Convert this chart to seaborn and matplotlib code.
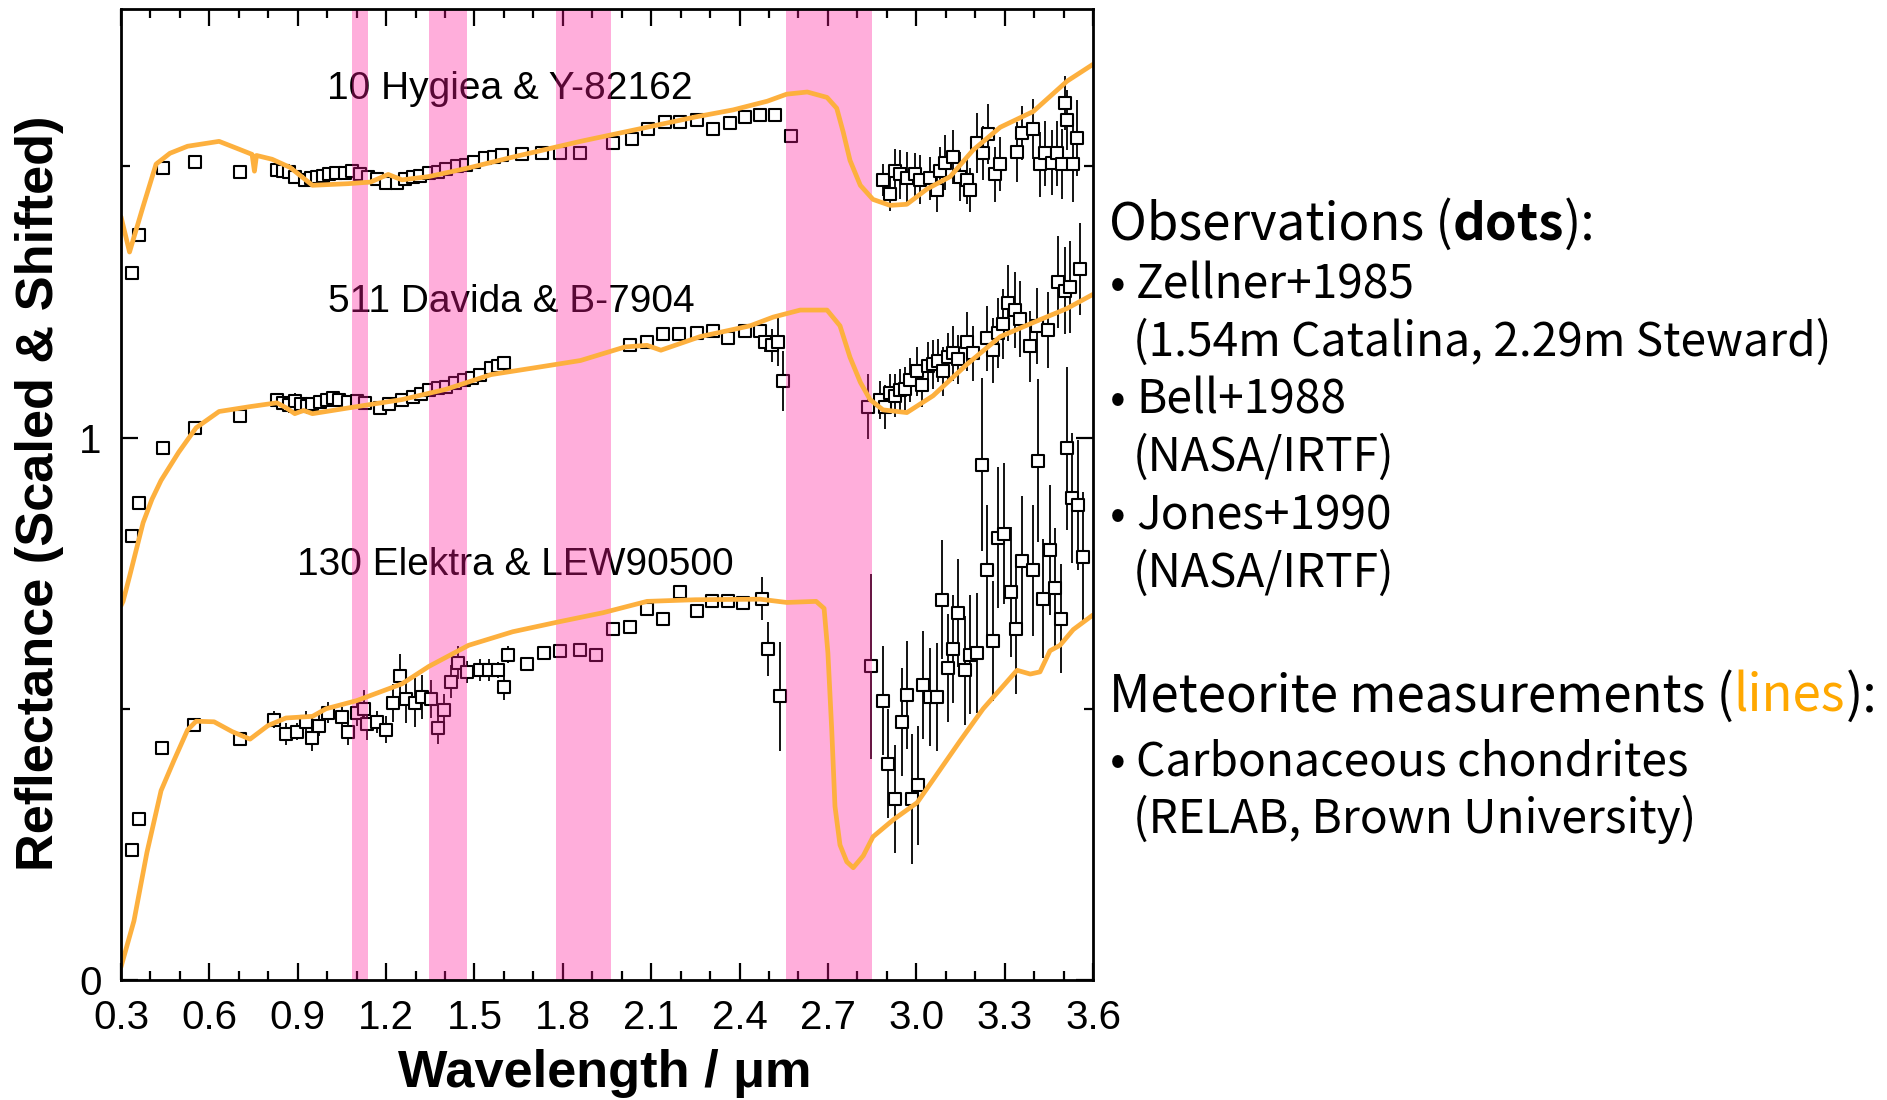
import numpy as np
import matplotlib
matplotlib.use("Agg")
import matplotlib.pyplot as plt
from matplotlib.ticker import MultipleLocator, FixedLocator, FixedFormatter, FormatStrFormatter
import seaborn as sns

# ---------------------------------------------------------------- data
# Laboratory spectra of carbonaceous chondrites (scaled and shifted)
w_hyg_line = [0.30, 0.329, 0.375, 0.419, 0.466, 0.526, 0.633, 0.694, 0.745, 0.753, 0.760,
              0.813, 0.874, 0.95, 1.071, 1.147, 1.207, 1.254, 1.344, 1.48, 1.63, 1.86,
              2.086, 2.25, 2.378, 2.494, 2.56, 2.63, 2.697, 2.73, 2.752, 2.775, 2.81,
              2.853, 2.911, 2.968, 3.036, 3.115, 3.193, 3.285, 3.397, 3.512, 3.6]
r_hyg_line = [1.407, 1.342, 1.426, 1.504, 1.524, 1.537, 1.546, 1.533, 1.522, 1.491, 1.520,
              1.513, 1.498, 1.465, 1.468, 1.471, 1.485, 1.475, 1.481, 1.497, 1.517, 1.546,
              1.572, 1.591, 1.604, 1.620, 1.633, 1.637, 1.627, 1.607, 1.563, 1.511, 1.465,
              1.439, 1.428, 1.430, 1.458, 1.481, 1.530, 1.572, 1.601, 1.657, 1.688]

w_dav_line = [0.30, 0.307, 0.329, 0.375, 0.405, 0.436, 0.496, 0.555, 0.633, 0.738, 0.829,
              0.86, 0.89, 0.92, 0.95, 1.1, 1.254, 1.404, 1.556, 1.709, 1.86, 2.011, 2.086,
              2.133, 2.266, 2.436, 2.514, 2.606, 2.697, 2.741, 2.775, 2.81, 2.843, 2.887,
              2.968, 3.057, 3.172, 3.285, 3.397, 3.512, 3.6]
r_dav_line = [0.690, 0.698, 0.744, 0.843, 0.886, 0.921, 0.973, 1.018, 1.048, 1.057, 1.064,
              1.055, 1.044, 1.050, 1.044, 1.057, 1.070, 1.089, 1.116, 1.129, 1.142, 1.167,
              1.170, 1.161, 1.186, 1.206, 1.222, 1.235, 1.235, 1.206, 1.148, 1.102, 1.070,
              1.051, 1.046, 1.077, 1.135, 1.186, 1.212, 1.238, 1.264]

w_ele_line = [0.30, 0.344, 0.388, 0.436, 0.48, 0.526, 0.555, 0.616, 0.677, 0.738, 0.799,
              0.86, 0.95, 0.996, 1.1, 1.254, 1.345, 1.48, 1.63, 1.784, 1.936, 2.086, 2.25,
              2.47, 2.56, 2.66, 2.687, 2.70, 2.713, 2.724, 2.741, 2.764, 2.786, 2.82, 2.853,
              2.921, 3.003, 3.057, 3.149, 3.227, 3.342, 3.387, 3.42, 3.454, 3.488, 3.533, 3.6]
r_ele_line = [0.024, 0.109, 0.235, 0.349, 0.405, 0.461, 0.477, 0.476, 0.458, 0.444, 0.469,
              0.483, 0.486, 0.500, 0.515, 0.546, 0.578, 0.617, 0.642, 0.660, 0.677, 0.698,
              0.701, 0.702, 0.696, 0.698, 0.685, 0.603, 0.461, 0.320, 0.249, 0.218, 0.207,
              0.229, 0.264, 0.295, 0.327, 0.369, 0.441, 0.500, 0.571, 0.564, 0.568, 0.607,
              0.617, 0.646, 0.673]

# Telescopic reflectance of the asteroids (value, 1-sigma error)
w_hyg = [0.336, 0.362, 0.443, 0.551, 0.704, 0.829, 0.850, 0.870, 0.890, 0.925, 0.945, 0.965,
         0.985, 1.005, 1.030, 1.060, 1.085, 1.110, 1.140, 1.170, 1.200, 1.238, 1.265, 1.290,
         1.315, 1.345, 1.375, 1.405, 1.440, 1.470, 1.500, 1.535, 1.565, 1.594, 1.660, 1.730,
         1.790, 1.860, 1.970, 2.035, 2.090, 2.147, 2.198, 2.256, 2.310, 2.368, 2.419, 2.470,
         2.520, 2.574,
         2.888, 2.911, 2.928, 2.945, 2.968, 2.996, 3.013, 3.047, 3.071, 3.081, 3.098, 3.125,
         3.149, 3.172, 3.183, 3.207, 3.227, 3.245, 3.268, 3.285, 3.342, 3.359, 3.397, 3.420,
         3.438, 3.461, 3.478, 3.495, 3.505, 3.512, 3.533, 3.546]
r_hyg = [1.303, 1.373, 1.497, 1.508, 1.490, 1.493, 1.491, 1.490, 1.480, 1.475, 1.478, 1.480,
         1.483, 1.485, 1.488, 1.488, 1.492, 1.485, 1.480, 1.476, 1.470, 1.469, 1.476, 1.480,
         1.482, 1.488, 1.490, 1.495, 1.500, 1.503, 1.508, 1.515, 1.518, 1.520, 1.522, 1.524,
         1.525, 1.525, 1.543, 1.550, 1.569, 1.582, 1.582, 1.585, 1.569, 1.580, 1.591, 1.594,
         1.594, 1.555,
         1.475, 1.449, 1.491, 1.485, 1.478, 1.485, 1.475, 1.478, 1.456, 1.491, 1.507, 1.517,
         1.481, 1.475, 1.456, 1.543, 1.524, 1.559, 1.485, 1.504, 1.527, 1.562, 1.569, 1.504,
         1.524, 1.507, 1.524, 1.504, 1.617, 1.585, 1.504, 1.552]
e_hyg = [0, 0, 0, 0, 0, 0.008, 0.008, 0.008, 0.010, 0.010, 0.010, 0.010,
         0.010, 0.010, 0.010, 0.010, 0.010, 0.010, 0.010, 0.010, 0.010, 0.010, 0.010, 0.010,
         0.010, 0.010, 0.010, 0.010, 0.010, 0.010, 0.010, 0.010, 0.010, 0.010, 0, 0,
         0, 0, 0, 0, 0, 0, 0, 0, 0, 0, 0, 0,
         0, 0,
         0.030, 0.032, 0.040, 0.045, 0.048, 0.040, 0.045, 0.040, 0.040, 0.045, 0.050, 0.050,
         0.045, 0.045, 0.040, 0.055, 0.050, 0.055, 0.050, 0.050, 0.055, 0.050, 0.055, 0.060,
         0.060, 0.060, 0.060, 0.065, 0.050, 0.055, 0.070, 0.070]

w_dav = [0.336, 0.362, 0.443, 0.551, 0.704, 0.829, 0.850, 0.870, 0.890, 0.910, 0.930, 0.950,
         0.975, 1.000, 1.020, 1.040, 1.070, 1.100, 1.130, 1.178, 1.210, 1.254, 1.290, 1.320,
         1.345, 1.375, 1.404, 1.435, 1.465, 1.490, 1.519, 1.556, 1.580, 1.602,
         2.028, 2.085, 2.140, 2.195, 2.256, 2.310, 2.362, 2.419, 2.470, 2.487, 2.509, 2.530,
         2.548, 2.837,
         2.877, 2.894, 2.911, 2.928, 2.945, 2.962, 2.979, 3.003, 3.020, 3.040, 3.057, 3.074,
         3.091, 3.108, 3.125, 3.142, 3.172, 3.193, 3.240, 3.262, 3.279, 3.296, 3.313, 3.336,
         3.353, 3.387, 3.410, 3.448, 3.482, 3.505, 3.522, 3.556]
r_dav = [0.818, 0.879, 0.981, 1.017, 1.039, 1.070, 1.064, 1.060, 1.068, 1.062, 1.058, 1.062,
         1.066, 1.070, 1.072, 1.070, 1.066, 1.068, 1.064, 1.054, 1.062, 1.070, 1.074, 1.080,
         1.088, 1.091, 1.094, 1.100, 1.106, 1.110, 1.115, 1.128, 1.132, 1.138,
         1.170, 1.177, 1.190, 1.190, 1.193, 1.196, 1.183, 1.196, 1.196, 1.177, 1.170, 1.177,
         1.104, 1.057,
         1.070, 1.056, 1.083, 1.077, 1.087, 1.090, 1.106, 1.122, 1.096, 1.132, 1.135, 1.142,
         1.122, 1.148, 1.155, 1.144, 1.177, 1.155, 1.183, 1.161, 1.193, 1.209, 1.248, 1.235,
         1.219, 1.168, 1.206, 1.199, 1.287, 1.271, 1.277, 1.310]
e_dav = [0, 0, 0, 0, 0.008, 0.010, 0.012, 0.015, 0.015, 0.012, 0.015, 0.012,
         0.012, 0.012, 0.012, 0.012, 0.010, 0.010, 0.010, 0.010, 0.010, 0.010, 0.010, 0.010,
         0.010, 0.010, 0.010, 0.010, 0.010, 0.010, 0.010, 0.010, 0.010, 0.010,
         0, 0, 0, 0, 0, 0, 0.010, 0, 0, 0.020, 0.030, 0.045,
         0.055, 0.060,
         0.035, 0.040, 0.035, 0.040, 0.040, 0.040, 0.040, 0.045, 0.040, 0.045, 0.045, 0.040,
         0.045, 0.045, 0.050, 0.045, 0.055, 0.050, 0.060, 0.060, 0.065, 0.065, 0.070, 0.070,
         0.070, 0.065, 0.070, 0.070, 0.085, 0.080, 0.085, 0.085]

w_ele = [0.336, 0.362, 0.438, 0.548, 0.704, 0.821, 0.860, 0.897, 0.927, 0.950, 0.973, 1.004,
         1.049, 1.071, 1.102, 1.125, 1.135, 1.170, 1.200, 1.223, 1.246, 1.268, 1.298, 1.322,
         1.352, 1.375, 1.397, 1.420, 1.443, 1.473, 1.519, 1.549, 1.579, 1.599, 1.614, 1.678,
         1.735, 1.790, 1.857, 1.913, 1.970, 2.028, 2.085, 2.140, 2.198, 2.255, 2.306, 2.362,
         2.413, 2.476, 2.497, 2.538, 2.845,
         2.888, 2.905, 2.928, 2.950, 2.968, 2.985, 3.006, 3.023, 3.047, 3.070, 3.087, 3.108,
         3.125, 3.142, 3.166, 3.183, 3.206, 3.222, 3.240, 3.262, 3.279, 3.298, 3.321, 3.339,
         3.358, 3.397, 3.414, 3.431, 3.454, 3.471, 3.491, 3.512, 3.528, 3.550, 3.565]
r_ele = [0.239, 0.297, 0.428, 0.470, 0.444, 0.480, 0.454, 0.458, 0.476, 0.447, 0.469, 0.493,
         0.484, 0.458, 0.493, 0.500, 0.472, 0.476, 0.461, 0.511, 0.561, 0.518, 0.511, 0.522,
         0.518, 0.465, 0.497, 0.550, 0.585, 0.568, 0.571, 0.571, 0.571, 0.541, 0.600, 0.582,
         0.603, 0.607, 0.609, 0.600, 0.647, 0.651, 0.684, 0.666, 0.716, 0.681, 0.698, 0.698,
         0.695, 0.703, 0.610, 0.523, 0.578,
         0.515, 0.399, 0.334, 0.476, 0.525, 0.334, 0.359, 0.544, 0.522, 0.522, 0.701, 0.575,
         0.610, 0.677, 0.571, 0.600, 0.603, 0.950, 0.755, 0.625, 0.815, 0.823, 0.716, 0.647,
         0.773, 0.755, 0.957, 0.703, 0.793, 0.723, 0.666, 0.980, 0.889, 0.876, 0.779]
e_ele = [0, 0, 0, 0, 0, 0.015, 0.020, 0.015, 0.020, 0.025, 0.020, 0.020,
         0.020, 0.025, 0.025, 0.035, 0.030, 0.020, 0.025, 0.035, 0.040, 0.045, 0.045, 0.040,
         0.035, 0.030, 0.030, 0.030, 0.030, 0.020, 0.020, 0.020, 0.015, 0.025, 0.015, 0.010,
         0, 0, 0.012, 0, 0, 0, 0.012, 0, 0, 0.012, 0, 0,
         0, 0.040, 0.050, 0.100, 0.170,
         0.100, 0.100, 0.100, 0.100, 0.100, 0.120, 0.110, 0.100, 0.090, 0.100, 0.110, 0.100,
         0.100, 0.100, 0.100, 0.110, 0.110, 0.160, 0.120, 0.110, 0.130, 0.130, 0.120, 0.120,
         0.120, 0.120, 0.150, 0.110, 0.120, 0.110, 0.100, 0.150, 0.120, 0.120, 0.120]

# Telluric absorption windows (micron)
band_lo = [1.085, 1.345, 1.777, 2.558]
band_hi = [1.140, 1.474, 1.964, 2.848]

pair_labels = ["10 Hygiea & Y-82162", "511 Davida & B-7904", "130 Elektra & LEW90500"]
label_x = [1.00, 1.003, 0.898]
label_y = [1.624, 1.232, 0.747]

x_ticks = [0.3, 0.6, 0.9, 1.2, 1.5, 1.8, 2.1, 2.4, 2.7, 3.0, 3.3, 3.6]
y_ticks = [0, 1]
y_tick_labels = ["0", "1"]

# ---------------------------------------------------------------- style
sns.set_theme(style="ticks")
plt.rcParams["font.family"] = ["Liberation Sans", "DejaVu Sans"]

ORANGE = "#FDB03E"
BAND = (1.0, 0.09, 0.60)     # drawn translucent over the black marks
INK = "black"

W, H = 1887, 1100
fig = plt.figure(figsize=(W / 100, H / 100), dpi=100)
ax = fig.add_axes([121 / W, 1 - 980 / H, (1093 - 121) / W, (980 - 9) / H])

# observations: error bars + open squares
for w, r, e in [(w_hyg, r_hyg, e_hyg), (w_dav, r_dav, e_dav), (w_ele, r_ele, e_ele)]:
    w, r, e = np.asarray(w), np.asarray(r), np.asarray(e)
    m = e > 0
    ax.errorbar(w[m], r[m], yerr=e[m], fmt="none", ecolor=INK, elinewidth=1.3,
                capsize=0, zorder=2)
    sns.scatterplot(x=w, y=r, marker="s", s=64, facecolor="white", edgecolor=INK,
                    linewidth=1.5, zorder=2.2, ax=ax, legend=False)

for txt, x, y in zip(pair_labels, label_x, label_y):
    ax.text(x, y, txt, fontsize=28, ha="left", va="baseline", color=INK, zorder=2.4)

# telluric bands
for lo, hi in zip(band_lo, band_hi):
    ax.axvspan(lo, hi, color=BAND, alpha=0.35, lw=0, zorder=3)

# meteorite spectra
for w, r in [(w_hyg_line, r_hyg_line), (w_dav_line, r_dav_line), (w_ele_line, r_ele_line)]:
    sns.lineplot(x=w, y=r, sort=False, estimator=None, color=ORANGE, lw=3.4,
                 zorder=4, ax=ax)

# axes
ax.set_xlim(0.3, 3.6)
ax.set_ylim(0, 1.79)
ax.xaxis.set_major_locator(FixedLocator(x_ticks))
ax.xaxis.set_major_formatter(FormatStrFormatter("%.1f"))
ax.xaxis.set_minor_locator(MultipleLocator(0.1))
ax.yaxis.set_major_locator(FixedLocator(y_ticks))
ax.yaxis.set_major_formatter(FixedFormatter(y_tick_labels))
ax.yaxis.set_minor_locator(FixedLocator([0.5, 1.5]))
ax.tick_params(which="both", direction="in", top=True, right=True, color=INK,
               width=1.6, labelcolor=INK)
ax.tick_params(which="major", length=12.5, labelsize=29, pad=14)
ax.tick_params(which="minor", length=6.5)
for sp in ax.spines.values():
    sp.set_color(INK)
    sp.set_linewidth(2.0)
    sp.set_zorder(5)
ax.set_xlabel("")
ax.set_ylabel("")

fig.text(605 / W, 1 - 1087 / H, "Wavelength / μm", ha="center", va="baseline",
         fontsize=37.7, fontweight="bold", color=INK)
fig.text(40 / W, 1 - 493 / H, "Reflectance (Scaled & Shifted)", rotation=90,
         ha="center", va="center", fontsize=37.7, fontweight="bold", color=INK)

# ---------------------------------------------------------------- notes on the right
NOTE_FONT = ["Noto Sans CJK JP", "DejaVu Sans"]
HEAD_SIZE = 36.7
ITEM_SIZE = 33.2
renderer = fig.canvas.get_renderer()


def note_line(x_px, y_px, parts, size=ITEM_SIZE):
    """Write a baseline-aligned line made of (text, weight, colour) pieces."""
    for text, weight, color in parts:
        t = fig.text(x_px / W, 1 - y_px / H, text, ha="left", va="baseline",
                     fontsize=size, fontweight=weight, color=color,
                     family=NOTE_FONT)
        x_px += t.get_window_extent(renderer).width


def bullet(x_px, y_px, text):
    fig.text(x_px / W, 1 - y_px / H, "•", ha="left", va="baseline",
             fontsize=ITEM_SIZE, color=INK, family=NOTE_FONT)
    note_line(x_px + 26, y_px, [(text, "normal", INK)])


note_line(1109, 240, [("Observations (", "normal", INK), ("dots", "bold", INK),
                      ("):", "normal", INK)], size=HEAD_SIZE)
bullet(1110, 298, "Zellner+1985")
note_line(1133, 356, [("(1.54m Catalina, 2.29m Steward)", "normal", INK)])
bullet(1110, 413, "Bell+1988")
note_line(1133, 471, [("(NASA/IRTF)", "normal", INK)])
bullet(1110, 529, "Jones+1990")
note_line(1133, 587, [("(NASA/IRTF)", "normal", INK)])
note_line(1109, 712, [("Meteorite measurements (", "normal", INK),
                      ("lines", "normal", "#FFA800"), ("):", "normal", INK)],
          size=HEAD_SIZE)
bullet(1110, 775, "Carbonaceous chondrites")
note_line(1133, 833, [("(RELAB, Brown University)", "normal", INK)])

fig.savefig("out.png", dpi=100, facecolor="white")
